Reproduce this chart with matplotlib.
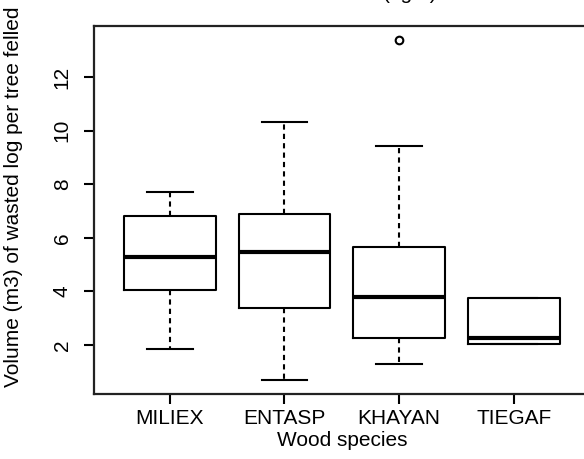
import matplotlib
matplotlib.use("Agg")
import matplotlib.pyplot as plt

plt.rcParams['font.family'] = ['Liberation Sans', 'DejaVu Sans']

species = ["MILIEX", "ENTASP", "KHAYAN", "TIEGAF"]
whislo = [1.86, 0.69, 1.29, 2.02]
q1 = [4.06, 3.37, 2.25, 2.02]
med = [5.28, 5.47, 3.78, 2.27]
q3 = [6.82, 6.88, 5.67, 3.74]
whishi = [7.72, 10.33, 9.43, 3.74]
outliers = [[], [], [13.39], []]
yticks = [2, 4, 6, 8, 10, 12]

W, H = 584, 459
fig = plt.figure(figsize=(W / 100, H / 100), dpi=100)

xlim = (0.34, 4.66)
ylim = (0.18, 13.9)
# pixel geometry of the axes box
left_px, right_px = 94.0, 589.7
top_px, bot_px = 26.4, 393.7
ax = fig.add_axes([left_px / W, 1 - bot_px / H, (right_px - left_px) / W, (bot_px - top_px) / H])

stats = []
for i, name in enumerate(species):
    stats.append(dict(label=name, whislo=whislo[i], q1=q1[i], med=med[i],
                      q3=q3[i], whishi=whishi[i], fliers=outliers[i]))

ax.bxp(stats, positions=[1, 2, 3, 4], widths=0.8, showfliers=True,
       boxprops=dict(color='black', linewidth=1.5),
       medianprops=dict(color='black', linewidth=3.0, solid_capstyle='butt'),
       whiskerprops=dict(color='black', linewidth=1.5, linestyle=(0, (2.5, 2))),
       capprops=dict(color='black', linewidth=1.5),
       capwidths=0.4,
       flierprops=dict(marker='o', markerfacecolor='none', markeredgecolor='black',
                       markersize=5.5, markeredgewidth=1.5))

fs = 15
ax.set_xlim(*xlim)
ax.set_ylim(*ylim)
ax.set_xticks([1, 2, 3, 4])
ax.set_xticklabels(species, fontsize=fs)
ax.set_yticks(yticks)
ax.set_yticklabels([str(t) for t in yticks], fontsize=fs, rotation=90, va='center')
ax.tick_params(axis='both', length=7, width=1.5, color='black', direction='out')
ax.tick_params(axis='x', pad=4)
ax.tick_params(axis='y', pad=9)
for s in ax.spines.values():
    s.set_linewidth(1.6)
    s.set_color('#222222')

ax.set_xlabel("Wood species", fontsize=fs, labelpad=2)
fig.text(14 / W, 1 - 197 / H, "Volume (m3) of wasted log per tree felled",
         rotation=90, ha='center', va='center', fontsize=fs)

# partially visible title at top edge (cut off in the reference as well)
fig.text(410 / W, 1 + 1 / H, "(right)", ha='center', va='baseline', fontsize=fs)

fig.savefig("out.png", dpi=100)
